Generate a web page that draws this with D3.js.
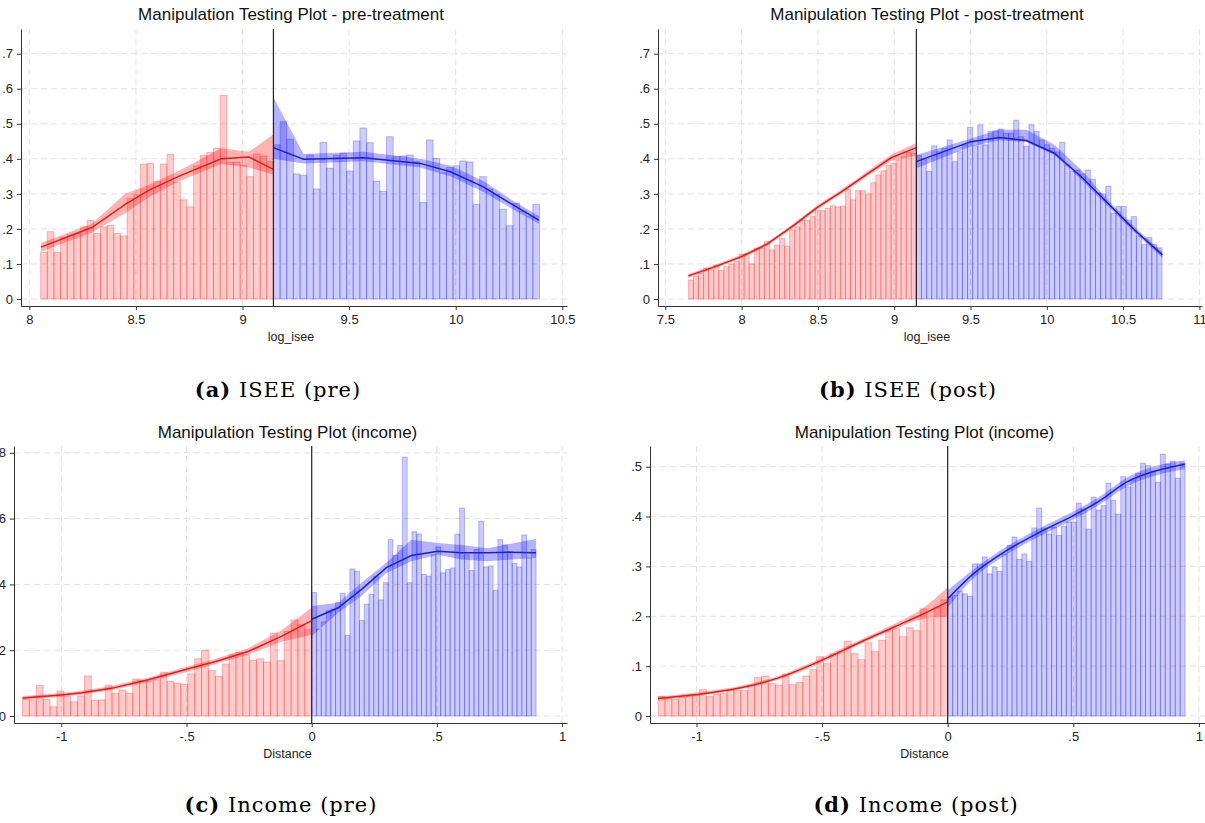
<!DOCTYPE html>
<html>
<head>
<meta charset="utf-8">
<script src="https://cdn.jsdelivr.net/npm/d3@7"></script>
<style>
  body { margin: 0; background: #fff; }
  svg { display: block; }
  .tick text { font-family: "Liberation Sans", Arial, sans-serif; font-size: 13px; fill: #222; }
  .tick line, .domain { stroke: #333; }
  .grid-line { stroke: #e2e2e2; stroke-dasharray: 6,4; }
  .plot-title { font-family: "Liberation Sans", Arial, sans-serif; font-size: 17px; fill: #111; }
  .axis-title { font-family: "Liberation Sans", Arial, sans-serif; font-size: 12.5px; fill: #222; }
  .caption { font-family: "DejaVu Serif", "Liberation Serif", serif; font-size: 21px; letter-spacing: 1px; fill: #000; }
</style>
</head>
<body>
<svg id="wrapper" width="1205" height="823"></svg>
<script>
// ---- data ----
const titles = [
  "Manipulation Testing Plot - pre-treatment",
  "Manipulation Testing Plot - post-treatment",
  "Manipulation Testing Plot (income)",
  "Manipulation Testing Plot (income)",
]
const xTitles = ["log_isee", "log_isee", "Distance", "Distance"]
const captionTags = ["(a)", "(b)", "(c)", "(d)"]
const captionTexts = [" ISEE (pre)", " ISEE (post)", " Income (pre)", " Income (post)"]

const iseeYTicks = [0, .1, .2, .3, .4, .5, .6, .7]
const aXTicks = [8, 8.5, 9, 9.5, 10, 10.5]
const bXTicks = [7.5, 8, 8.5, 9, 9.5, 10, 10.5, 11]
const cYTicks = [0, .2, .4, .6, .8]
const dYTicks = [0, .1, .2, .3, .4, .5]
const distXTicks = [-1, -.5, 0, .5, 1]

// histogram: cutoff, first left edge, last right edge, bar heights
const aBins = { cutoff: 9.145, start: 8.053, end: 10.393 }
const aRedBars = [0.133,0.192,0.133,0.176,0.183,0.187,0.206,0.224,0.187,0.206,
  0.21,0.187,0.18,0.287,0.297,0.385,0.387,0.335,0.385,0.413,
  0.333,0.283,0.263,0.38,0.41,0.418,0.43,0.581,0.39,0.39,
  0.382,0.349,0.414,0.408,0.392]
const aBlueBars = [0.44,0.506,0.456,0.357,0.353,0.411,0.314,0.447,0.373,0.41,
  0.416,0.365,0.451,0.488,0.446,0.336,0.307,0.463,0.406,0.408,
  0.411,0.392,0.275,0.454,0.401,0.36,0.375,0.38,0.394,0.391,
  0.27,0.349,0.314,0.299,0.256,0.209,0.273,0.251,0.235,0.27]

const bBins = { cutoff: 9.145, start: 7.651, end: 10.755 }
const bRedBars = [0.054,0.064,0.073,0.088,0.083,0.097,0.081,0.092,0.10,0.107,
  0.128,0.13,0.10,0.145,0.145,0.164,0.14,0.154,0.173,0.151,
  0.197,0.206,0.225,0.225,0.235,0.252,0.252,0.259,0.266,0.263,
  0.265,0.313,0.283,0.309,0.309,0.30,0.332,0.354,0.366,0.382,
  0.387,0.397,0.406,0.418,0.416]
const bBlueBars = [0.41,0.40,0.364,0.437,0.42,0.43,0.454,0.392,0.42,0.44,
  0.49,0.437,0.497,0.44,0.478,0.48,0.485,0.473,0.473,0.51,
  0.463,0.436,0.497,0.478,0.454,0.44,0.43,0.42,0.447,0.383,
  0.364,0.368,0.357,0.368,0.342,0.303,0.30,0.322,0.245,0.264,
  0.264,0.225,0.235,0.18,0.155,0.175,0.155,0.146]

const cBins = { cutoff: 0, start: -1.155, end: 0.896 }
const cRedBars = [0.051,0.049,0.093,0.05,0.028,0.076,0.059,0.043,0.061,0.122,
  0.047,0.049,0.093,0.069,0.079,0.069,0.112,0.108,0.105,0.11,
  0.133,0.105,0.10,0.096,0.128,0.174,0.20,0.138,0.12,0.158,
  0.186,0.193,0.186,0.169,0.174,0.164,0.252,0.168,0.257,0.292,
  0.277,0.262]
const cBlueBars = [0.375,0.264,0.286,0.32,0.325,0.345,0.373,0.245,0.447,0.44,
  0.29,0.34,0.37,0.425,0.353,0.405,0.536,0.488,0.518,0.787,
  0.405,0.56,0.553,0.43,0.425,0.49,0.514,0.435,0.445,0.45,
  0.553,0.632,0.49,0.442,0.506,0.592,0.453,0.456,0.382,0.536,
  0.52,0.50,0.464,0.453,0.55,0.48,0.506]

const dBins = { cutoff: 0, start: -1.153, end: 0.945 }
const dRedBars = [0.039,0.035,0.033,0.037,0.039,0.042,0.053,0.039,0.044,0.045,
  0.052,0.051,0.051,0.062,0.077,0.08,0.065,0.062,0.084,0.063,
  0.067,0.08,0.093,0.119,0.105,0.125,0.129,0.15,0.125,0.113,
  0.147,0.129,0.152,0.171,0.175,0.159,0.177,0.171,0.215,0.195,
  0.219,0.233]
const dBlueBars = [0.239,0.242,0.25,0.245,0.24,0.305,0.305,0.319,0.285,0.299,
  0.29,0.325,0.342,0.359,0.314,0.325,0.31,0.377,0.417,0.377,
  0.365,0.379,0.362,0.38,0.389,0.389,0.427,0.415,0.375,0.439,
  0.413,0.422,0.467,0.432,0.405,0.48,0.459,0.473,0.487,0.507,
  0.502,0.491,0.469,0.525,0.505,0.511,0.477,0.507]

// density fits: [x, estimate, ci low, ci high]
const aRedFit = [[8.055,.148,.135,.160],[8.293,.204,.19,.215],[8.45,.27,.245,.30],[8.56,.31,.29,.325],
  [8.7,.35,.335,.365],[8.9,.40,.385,.43],[9.03,.405,.375,.42],[9.145,.37,.355,.47]]
const aBlueFit = [[9.145,.432,.40,.575],[9.286,.399,.387,.414],[9.568,.403,.393,.42],[9.834,.387,.375,.40],
  [9.975,.363,.35,.38],[10.13,.32,.305,.337],[10.257,.273,.26,.285],[10.39,.225,.215,.237]]
const bRedFit = [[7.65,.066,.06,.071],[7.818,.091,.086,.096],[8.0,.121,.116,.126],[8.169,.157,.152,.162],
  [8.344,.211,.205,.217],[8.498,.262,.256,.268],[8.651,.305,.299,.311],[8.827,.358,.351,.365],
  [8.98,.403,.394,.412],[9.145,.432,.41,.445]]
const bBlueFit = [[9.145,.392,.373,.411],[9.503,.449,.435,.458],[9.69,.461,.453,.484],[9.866,.452,.448,.483],
  [10.05,.416,.411,.44],[10.226,.349,.34,.368],[10.40,.273,.265,.282],[10.575,.197,.19,.205],[10.757,.126,.118,.134]]
const cRedFit = [[-1.155,.055,.049,.061],[-1.0,.064,.058,.070],[-.918,.071,.065,.077],[-.8,.084,.078,.091],
  [-.652,.11,.103,.117],[-.5,.142,.134,.15],[-.387,.165,.157,.173],[-.254,.196,.186,.206],
  [-.121,.242,.226,.26],[0,.29,.247,.33]]
const cBlueFit = [[0,.294,.243,.334],[.106,.329,.314,.344],[.199,.385,.365,.405],[.298,.451,.435,.466],
  [.398,.488,.47,.536],[.504,.501,.49,.526],[.597,.496,.476,.52],[.703,.496,.47,.51],
  [.783,.498,.475,.522],[.896,.496,.48,.538]]
const dRedFit = [[-1.153,.035,.031,.039],[-1.0,.043,.04,.047],[-.81,.058,.055,.062],[-.677,.076,.072,.08],
  [-.5,.112,.108,.117],[-.344,.149,.145,.154],[-.211,.179,.174,.185],[-.104,.203,.194,.214],[0,.229,.199,.258]]
const dBlueFit = [[0,.235,.218,.252],[.102,.285,.276,.294],[.235,.332,.324,.34],[.368,.369,.361,.377],
  [.5,.402,.394,.41],[.606,.432,.424,.44],[.712,.469,.46,.478],[.831,.492,.483,.502],[.944,.505,.495,.513]]

// ---- layout ----
const panels = [
  { bins: aBins, red: aRedBars, blue: aBlueBars, redFit: aRedFit, blueFit: aBlueFit, xTicks: aXTicks, yTicks: iseeYTicks,
    box: { left: 21, right: 567, top: 29, bottom: 306 }, xDomain: [7.961, 10.522], yDomain: [-0.02, 0.7705],
    titleY: 20, xTitleY: 341, captionX: 278, captionY: 397, curve: d3.curveLinear },
  { bins: bBins, red: bRedBars, blue: bBlueBars, redFit: bRedFit, blueFit: bBlueFit, xTicks: bXTicks, yTicks: iseeYTicks,
    box: { left: 658, right: 1202, top: 29, bottom: 306 }, xDomain: [7.452, 11.017], yDomain: [-0.02, 0.7705],
    titleY: 20, xTitleY: 341, captionX: 908, captionY: 397, curve: d3.curveLinear },
  { bins: cBins, red: cRedBars, blue: cBlueBars, redFit: cRedFit, blueFit: cBlueFit, xTicks: distXTicks, yTicks: cYTicks,
    box: { left: 14, right: 567, top: 446, bottom: 723 }, xDomain: [-1.189, 1.0196], yDomain: [-0.0213, 0.8207],
    titleY: 438, xTitleY: 758, captionX: 281, captionY: 812, curve: d3.curveLinear },
  { bins: dBins, red: dRedBars, blue: dBlueBars, redFit: dRedFit, blueFit: dBlueFit, xTicks: distXTicks, yTicks: dYTicks,
    box: { left: 650, right: 1205, top: 446, bottom: 723 }, xDomain: [-1.185, 1.0243], yDomain: [-0.014, 0.5415],
    titleY: 438, xTitleY: 758, captionX: 916, captionY: 812, curve: d3.curveMonotoneX },
]

const stataFormat = d => String(+d.toFixed(2)).replace(/^(-?)0\./, "$1.")

const svg = d3.select("#wrapper")

panels.forEach((p, k) => {
  const g = svg.append("g")
  const x = d3.scaleLinear().domain(p.xDomain).range([p.box.left, p.box.right])
  const y = d3.scaleLinear().domain(p.yDomain).range([p.box.bottom, p.box.top])

  // grid
  g.append("g").selectAll("line").data(p.yTicks).join("line")
      .attr("class", "grid-line")
      .attr("x1", p.box.left).attr("x2", p.box.right)
      .attr("y1", d => y(d)).attr("y2", d => y(d))
  g.append("g").selectAll("line").data(p.xTicks).join("line")
      .attr("class", "grid-line")
      .attr("x1", d => x(d)).attr("x2", d => x(d))
      .attr("y1", p.box.top).attr("y2", p.box.bottom)

  // histogram bars
  const redW = (p.bins.cutoff - p.bins.start) / p.red.length
  const blueW = (p.bins.end - p.bins.cutoff) / p.blue.length
  const drawBars = (data, start, w, color) => {
    g.append("g").selectAll("rect").data(data).join("rect")
        .attr("x", (d, i) => x(start + i * w))
        .attr("width", x(start + w) - x(start))
        .attr("y", d => y(d))
        .attr("height", d => y(0) - y(d))
        .attr("fill", color).attr("fill-opacity", 0.2)
        .attr("stroke", color).attr("stroke-opacity", 0.25).attr("stroke-width", 1)
  }
  drawBars(p.red, p.bins.start, redW, "#ff0000")
  drawBars(p.blue, p.bins.cutoff, blueW, "#0000ff")

  // confidence bands and fitted densities
  const band = d3.area().x(d => x(d[0])).y0(d => y(d[2])).y1(d => y(d[3])).curve(p.curve)
  const line = d3.line().x(d => x(d[0])).y(d => y(d[1])).curve(p.curve)
  g.append("path").datum(p.redFit).attr("d", band).attr("fill", "#ff0000").attr("fill-opacity", 0.3)
  g.append("path").datum(p.blueFit).attr("d", band).attr("fill", "#0000ff").attr("fill-opacity", 0.3)
  g.append("path").datum(p.redFit).attr("d", line).attr("fill", "none").attr("stroke", "#dd1f1f").attr("stroke-width", 1.5)
  g.append("path").datum(p.blueFit).attr("d", line).attr("fill", "none").attr("stroke", "#2020c8").attr("stroke-width", 1.5)

  // cutoff line
  g.append("line")
      .attr("x1", x(p.bins.cutoff)).attr("x2", x(p.bins.cutoff))
      .attr("y1", p.box.top).attr("y2", p.box.bottom)
      .attr("stroke", "#222").attr("stroke-width", 1.2)

  // axes
  g.append("g")
      .attr("transform", `translate(${p.box.left},0)`)
      .call(d3.axisLeft(y).tickValues(p.yTicks).tickFormat(stataFormat).tickSize(4).tickSizeOuter(0).tickPadding(4))
  g.append("g")
      .attr("transform", `translate(0,${p.box.bottom})`)
      .call(d3.axisBottom(x).tickValues(p.xTicks).tickFormat(stataFormat).tickSize(4).tickSizeOuter(0).tickPadding(5))

  // titles
  const cx = (p.box.left + p.box.right) / 2
  g.append("text").attr("class", "plot-title")
      .attr("x", cx - 3).attr("y", p.titleY).attr("text-anchor", "middle")
      .text(titles[k])
  g.append("text").attr("class", "axis-title")
      .attr("x", cx - 3).attr("y", p.xTitleY).attr("text-anchor", "middle")
      .text(xTitles[k])

  const cap = g.append("text").attr("class", "caption")
      .attr("x", p.captionX).attr("y", p.captionY).attr("text-anchor", "middle")
  cap.append("tspan").attr("font-weight", "bold").text(captionTags[k])
  cap.append("tspan").text(captionTexts[k])
})
</script>
</body>
</html>
